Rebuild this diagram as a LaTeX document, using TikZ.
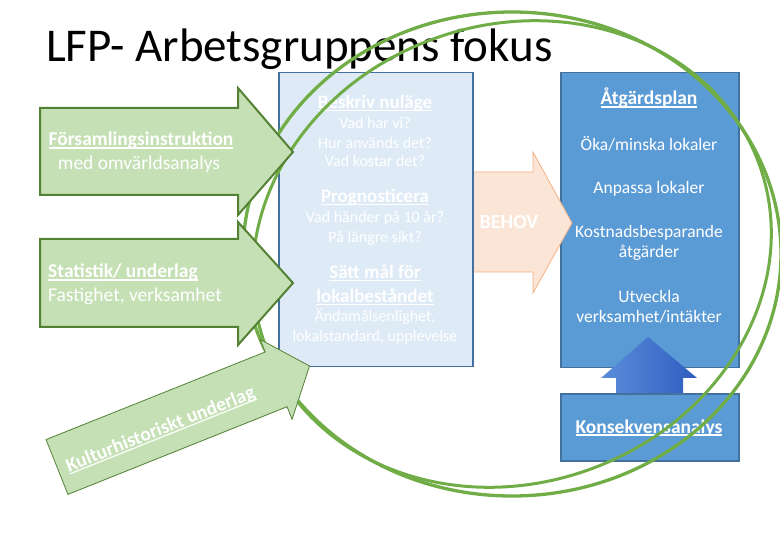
\documentclass[tikz,border=0pt]{standalone}
\usepackage{fontspec}
\setmainfont{Carlito}
\usepackage{tikz}
\usetikzlibrary{positioning}
\definecolor{lightbox}{HTML}{DEEBF7}
\definecolor{boxline}{HTML}{41719C}
\definecolor{darkbox}{HTML}{5B9BD5}
\definecolor{greenfill}{HTML}{C5E0B4}
\definecolor{greenline}{HTML}{548235}
\definecolor{ringgreen}{HTML}{70AD47}
\definecolor{peach}{HTML}{FBE5D6}
\definecolor{peachline}{HTML}{F4B183}
\definecolor{upleft}{HTML}{5B8FDB}
\definecolor{upright}{HTML}{2E5CC0}
\newcommand{\ulin}[1]{\setbox0=\hbox{#1}\rlap{\rule[-0.13em]{\wd0}{0.06em}}\box0}

\begin{document}
\begin{tikzpicture}[x=1pt,y=-1pt,
  every node/.style={text=white,inner sep=0pt,align=center},
  box/.style={draw=boxline,line width=1.5pt,anchor=north west},
  ask/.style={anchor=base,font=\fontsize{16}{18}\selectfont},
  askhead/.style={anchor=base,font=\fontsize{19}{21}\selectfont\bfseries},
  plan/.style={anchor=base,font=\fontsize{17.5}{20}\selectfont},
  planhead/.style={anchor=base,font=\fontsize{19.5}{22}\selectfont\bfseries},
  intext/.style={anchor=base,font=\fontsize{19.5}{22}\selectfont},
  ring/.style={draw=ringgreen,line width=3pt},
  greenarr/.style={draw=greenline,fill=greenfill,line width=2pt}
]
  \useasboundingbox (0,0) rectangle (780,540);
  \node[text=black,anchor=base west,font=\fontsize{47}{52}\selectfont] (title)
    at (46,62) {LFP- Arbetsgruppens fokus};

  % boxes
  \node[box,fill=darkbox,minimum width=178pt,minimum height=295pt] (plan) at (560,72) {};
  \node[box,fill=darkbox,minimum width=178pt,minimum height=67pt] (konsekvens) at (560,393) {};
  \shade[left color=upleft,right color=upright] (616,393) -- (616,378) -- (601,378)
    -- (648,337) -- (697,378) -- (683,378) -- (683,393) -- cycle;
  \draw[draw=peachline,fill=peach,line width=0.8pt] (470,172) -- (533,172) -- (533,152)
    -- (572,223) -- (533,293) -- (533,272) -- (470,272) -- cycle;
  \node[box,fill=lightbox,minimum width=194pt,minimum height=294pt] (nulage) at (278,72) {};

  \node[askhead] (beskriv) at (375,109) {\ulin{Beskriv nuläge}};
  \node[ask] (harvi) at (375,129) {Vad har vi?};
  \node[ask] (anvands) at (375,149) {Hur används det?};
  \node[ask] (kostar) at (375,167) {Vad kostar det?};
  \node[askhead] (prognos) at (375,203) {\ulin{Prognosticera}};
  \node[ask] (tioar) at (375,223) {Vad händer på 10 år?};
  \node[ask] (sikt) at (375,243) {På längre sikt?};
  \node[askhead] (mal) at (375,279) {\ulin{Sätt mål för}};
  \node[askhead] (bestand) at (375,303) {\ulin{lokalbeståndet}};
  \node[ask] (andamal) at (375,322) {Ändamålsenlighet,};
  \node[ask] (standard) at (375,342) {lokalstandard, upplevelse};

  \node[planhead] (atgard) at (649,105) {\ulin{Åtgärdsplan}};
  \node[plan] (oka) at (649,151) {Öka/minska lokaler};
  \node[plan] (anpassa) at (649,194) {Anpassa lokaler};
  \node[plan] (kostnad) at (649,238) {Kostnadsbesparande};
  \node[plan] (atgarder) at (649,258) {åtgärder};
  \node[plan] (utveckla) at (649,303) {Utveckla};
  \node[plan] (intakter) at (649,323) {verksamhet/intäkter};
  \node[planhead] (analys) at (649,433) {\ulin{Konsekvensanalys}};
  \node[planhead,font=\fontsize{20}{22}\selectfont\bfseries] (behov) at (509,229) {BEHOV};

  % double ring
  \coordinate (ringc) at (512,254);
  \draw[ring,line width=3.3pt] (ringc) ellipse [x radius=269, y radius=242];
  \draw[ring,rotate around={20:(ringc)}] (ringc) ellipse [x radius=263, y radius=229];

  % green arrows
  \draw[greenarr] (40,108) -- (238,108) -- (238,88) -- (293,152) -- (238,215)
    -- (238,195) -- (40,195) -- cycle;
  \draw[greenarr] (40,239) -- (238,239) -- (238,222) -- (293,283) -- (238,345)
    -- (238,327) -- (40,327) -- cycle;
  \node[intext,font=\fontsize{19.5}{22}\selectfont\bfseries] (forsamling) at (141,146)
    {\ulin{Församlingsinstruktion}};
  \node[intext] (omvarld) at (139,170) {med omvärldsanalys};
  \node[intext,anchor=base west,font=\fontsize{19.5}{22}\selectfont\bfseries] (statistik)
    at (48,278) {\ulin{Statistik/ underlag}};
  \node[intext,anchor=base west] (fastighet) at (48,302) {Fastighet, verksamhet};

  \begin{scope}[shift={(57,467)},rotate=21.8]
    \draw[draw=greenline,fill=greenfill,line width=0.8pt] (0,-29.5) -- (236,-29.5)
      -- (236,-43) -- (272,0) -- (236,43) -- (236,29.5) -- (0,29.5) -- cycle;
    \node[transform shape,font=\fontsize{19.5}{22}\selectfont\bfseries] (kultur) at (110,4)
      {\ulin{Kulturhistoriskt underlag}};
  \end{scope}
\end{tikzpicture}
\end{document}
